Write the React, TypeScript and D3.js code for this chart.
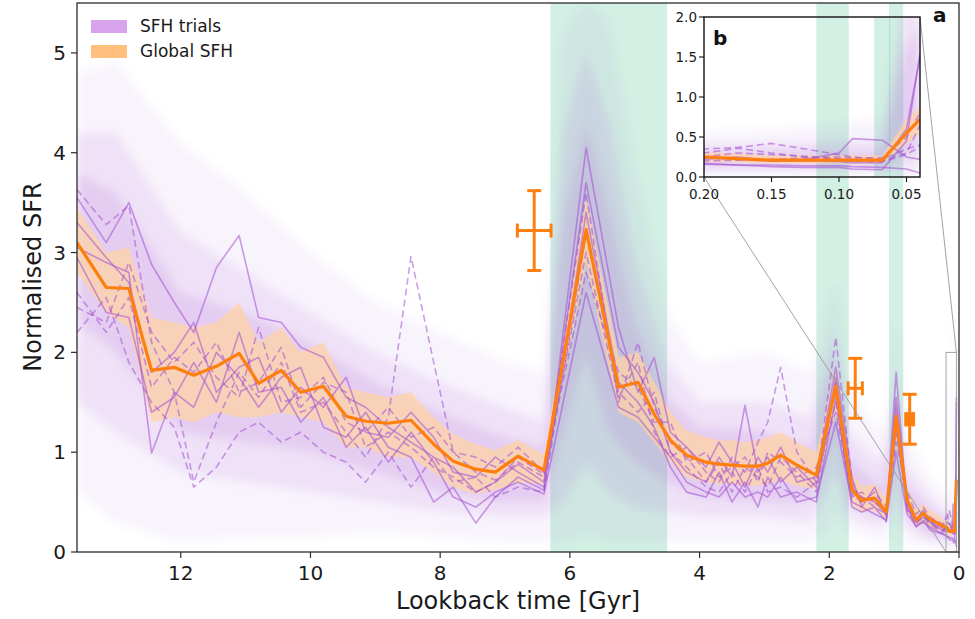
import React from "react";
import * as d3 from "d3";

// lookback time grid [Gyr]
const lookback = [
  13.6, 13.15, 12.8, 12.45, 12.1, 11.8, 11.45, 11.1, 10.8, 10.45,
  10.15, 9.8, 9.45, 9.15, 8.8, 8.45, 8.1, 7.8, 7.45, 7.15,
  6.8, 6.4, 5.75, 5.25, 4.95, 4.7, 4.45, 4.2, 3.9, 3.7,
  3.5, 3.3, 3.1, 2.95, 2.75, 2.5, 2.2, 1.9, 1.65, 1.5,
  1.3, 1.12, 0.97, 0.8, 0.66, 0.55, 0.45, 0.36, 0.25, 0.2,
  0.175, 0.15, 0.125, 0.1, 0.09, 0.068, 0.05, 0.04,
];

const globalMedian = [
  3.10, 2.65, 2.64, 1.82, 1.85, 1.77, 1.86, 1.99, 1.69, 1.82,
  1.60, 1.66, 1.36, 1.31, 1.29, 1.32, 1.08, 0.91, 0.83, 0.80,
  0.96, 0.82, 3.23, 1.65, 1.70, 1.38, 1.12, 0.97, 0.90, 0.88,
  0.87, 0.86, 0.86, 0.89, 0.97, 0.87, 0.77, 1.66, 0.62, 0.52,
  0.54, 0.40, 1.36, 0.52, 0.32, 0.39, 0.33, 0.30, 0.26, 0.25,
  0.23, 0.21, 0.21, 0.21, 0.21, 0.21, 0.55, 0.72,
];

const globalLow = [
  2.80, 2.40, 2.25, 1.30, 1.35, 1.30, 1.40, 1.35, 1.35, 1.40,
  1.35, 1.30, 1.05, 1.05, 0.95, 0.95, 0.80, 0.65, 0.58, 0.62,
  0.70, 0.68, 2.90, 1.40, 1.30, 1.10, 0.90, 0.75, 0.70, 0.68,
  0.68, 0.66, 0.66, 0.68, 0.72, 0.66, 0.63, 1.40, 0.48, 0.40,
  0.42, 0.32, 1.15, 0.40, 0.25, 0.30, 0.26, 0.23, 0.20, 0.19,
  0.18, 0.17, 0.17, 0.17, 0.17, 0.17, 0.42, 0.55,
];

const globalHigh = [
  3.45, 3.00, 3.05, 2.35, 2.30, 2.25, 2.30, 2.50, 2.10, 2.25,
  2.00, 2.10, 1.65, 1.60, 1.55, 1.60, 1.35, 1.18, 1.08, 1.02,
  1.12, 0.98, 3.55, 1.95, 2.00, 1.70, 1.40, 1.22, 1.15, 1.12,
  1.12, 1.10, 1.12, 1.15, 1.20, 1.10, 1.00, 1.85, 0.78, 0.66,
  0.68, 0.52, 1.55, 0.65, 0.42, 0.48, 0.42, 0.38, 0.33, 0.31,
  0.29, 0.27, 0.27, 0.27, 0.27, 0.27, 0.72, 0.88,
];

const trial1 = [
  3.55, 3.10, 3.50, 2.88, 2.50, 2.20, 2.85, 3.17, 2.35, 2.30,
  2.05, 1.95, 1.55, 1.45, 1.25, 1.10, 0.95, 0.85, 0.60, 0.70,
  0.88, 0.70, 3.70, 2.05, 1.80, 1.50, 1.00, 0.80, 0.70, 0.95,
  0.75, 1.47, 0.80, 0.95, 0.70, 0.85, 0.65, 1.75, 0.60, 0.55,
  0.50, 0.38, 1.55, 0.50, 0.33, 0.42, 0.30, 0.27, 0.24, 0.22,
  0.25, 0.20, 0.22, 0.30, 0.48, 0.46, 0.25, 0.22,
];
const trial2 = [
  3.63, 3.28, 3.47, 2.10, 1.60, 0.70, 1.30, 1.80, 1.55, 1.90,
  1.40, 1.50, 1.20, 0.95, 1.35, 2.96, 1.90, 1.00, 0.80, 0.72,
  0.90, 0.75, 3.00, 1.55, 1.90, 1.20, 0.95, 1.05, 0.80, 0.70,
  0.95, 0.80, 1.10, 1.30, 1.85, 1.00, 0.70, 2.15, 0.70, 0.50,
  0.60, 0.45, 1.20, 0.55, 0.30, 0.40, 0.28, 0.30, 0.25, 0.35,
  0.37, 0.42, 0.35, 0.28, 0.25, 0.22, 0.35, 0.40,
];
const trial3 = [
  3.05, 2.90, 2.80, 0.99, 1.60, 1.45, 2.00, 1.75, 1.45, 1.75,
  1.85, 1.25, 1.15, 1.40, 1.05, 0.95, 0.50, 0.65, 0.29, 0.55,
  0.75, 0.62, 3.40, 1.70, 1.50, 1.25, 0.85, 0.60, 0.55, 0.80,
  0.50, 0.70, 0.45, 0.75, 0.55, 0.60, 0.50, 1.55, 0.45, 0.40,
  0.45, 0.30, 1.80, 0.45, 0.25, 0.32, 0.22, 0.20, 0.18, 0.17,
  0.15, 0.13, 0.12, 0.12, 0.10, 0.09, 0.45, 1.55,
];
const trial4 = [
  2.45, 2.30, 2.90, 2.20, 1.90, 2.10, 1.75, 1.55, 2.25, 1.50,
  1.55, 1.75, 1.30, 1.20, 1.45, 1.15, 1.25, 1.00, 0.95, 0.85,
  1.05, 0.80, 2.80, 1.80, 1.65, 1.30, 1.30, 0.90, 1.00, 0.75,
  0.85, 0.95, 0.70, 1.00, 0.90, 0.75, 0.85, 1.40, 0.55, 0.60,
  0.50, 0.42, 1.10, 0.60, 0.38, 0.45, 0.35, 0.32, 0.28, 0.30,
  0.36, 0.30, 0.25, 0.25, 0.24, 0.24, 0.50, 0.80,
];
const trial5 = [
  3.30, 2.95, 2.70, 1.80, 2.00, 2.30, 1.60, 1.85, 1.95, 1.40,
  1.65, 1.45, 1.75, 1.20, 1.15, 1.40, 1.15, 0.80, 0.75, 0.95,
  0.80, 0.65, 4.05, 2.25, 1.60, 1.95, 1.20, 1.05, 0.85, 1.10,
  0.90, 0.65, 0.95, 0.80, 1.05, 0.70, 0.75, 1.85, 0.75, 0.45,
  0.65, 0.35, 1.45, 0.48, 0.30, 0.35, 0.32, 0.25, 0.22, 0.24,
  0.22, 0.20, 0.20, 0.19, 0.18, 0.18, 0.60, 1.50,
];
const trial6 = [
  2.60, 2.20, 2.55, 1.65, 1.95, 1.80, 2.10, 1.60, 1.70, 2.05,
  1.45, 1.70, 1.60, 1.05, 1.20, 1.05, 0.85, 0.75, 0.60, 0.70,
  0.95, 0.78, 3.60, 1.50, 2.10, 1.45, 1.10, 0.95, 0.70, 0.90,
  0.60, 0.85, 0.75, 0.65, 0.95, 0.80, 0.60, 1.70, 0.65, 0.55,
  0.45, 0.38, 1.30, 0.42, 0.28, 0.36, 0.30, 0.26, 0.22, 0.20,
  0.21, 0.22, 0.24, 0.23, 0.22, 0.20, 0.30, 0.65,
];
const trial7 = [
  2.95, 2.40, 2.35, 1.40, 1.55, 1.90, 1.50, 2.20, 1.60, 1.65,
  1.30, 1.55, 1.05, 1.25, 0.90, 1.20, 0.90, 0.55, 0.45, 0.60,
  0.70, 0.58, 2.60, 1.45, 1.35, 1.15, 0.95, 0.70, 0.60, 0.55,
  0.70, 0.55, 0.60, 0.55, 0.75, 0.50, 0.55, 1.30, 0.50, 0.45,
  0.38, 0.32, 1.00, 0.38, 0.26, 0.30, 0.25, 0.22, 0.18, 0.16,
  0.15, 0.15, 0.14, 0.14, 0.13, 0.12, 0.10, 0.05,
];
const trial8 = [
  2.20, 2.55, 1.90, 1.50, 1.25, 0.65, 0.85, 1.20, 1.30, 1.10,
  1.20, 1.00, 0.90, 0.70, 1.00, 0.65, 0.95, 0.70, 0.75, 0.55,
  0.65, 0.60, 3.20, 1.60, 1.40, 1.60, 1.00, 0.85, 0.65, 0.60,
  0.80, 0.60, 0.85, 0.60, 0.65, 0.55, 0.70, 1.50, 0.58, 0.50,
  0.55, 0.40, 1.25, 0.45, 0.32, 0.36, 0.28, 0.24, 0.20, 0.25,
  0.30, 0.28, 0.26, 0.22, 0.20, 0.19, 0.28, 0.38,
];
const trials = [trial1, trial2, trial3, trial4, trial5, trial6, trial7, trial8];
const trialDashed = [false, true, false, true, false, true, false, true];

// spread of all trials (background haze)
const hazeTime = [
  13.6, 13.0, 12.0, 11.0, 10.0, 9.0, 8.0, 7.0, 6.4, 6.1,
  5.75, 5.4, 5.0, 4.5, 4.0, 3.0, 2.3, 2.1, 1.9, 1.7,
  1.2, 1.05, 0.97, 0.85, 0.5, 0.2, 0.1, 0.068, 0.05, 0.04,
];
const hazeOuterLow = [
  0.6, 0.3, 0.1, 0.15, 0.15, 0.2, 0.15, 0.1, 0.1, 0.1,
  0.2, 0.1, 0.1, 0.1, 0.1, 0.1, 0.1, 0.2, 0.4, 0.2,
  0.1, 0.15, 0.4, 0.1, 0.05, 0.02, 0.02, 0.02, 0.0, 0.0,
];
const hazeOuterHigh = [
  4.8, 4.9, 4.1, 3.6, 3.0, 2.5, 2.2, 1.9, 1.8, 5.2,
  5.5, 5.3, 3.8, 2.4, 1.9, 2.0, 1.8, 2.2, 2.7, 1.6,
  1.2, 1.6, 2.3, 1.2, 0.8, 0.55, 0.65, 0.75, 2.6, 2.8,
];
const hazeMidLow = [
  1.5, 1.2, 0.8, 0.7, 0.6, 0.5, 0.4, 0.35, 0.35, 0.5,
  0.9, 0.6, 0.45, 0.4, 0.35, 0.35, 0.3, 0.5, 0.8, 0.35,
  0.25, 0.4, 0.8, 0.25, 0.12, 0.08, 0.08, 0.08, 0.1, 0.1,
];
const hazeMidHigh = [
  4.2, 4.2, 3.2, 2.8, 2.4, 2.0, 1.7, 1.45, 1.3, 4.2,
  5.0, 4.3, 2.9, 1.9, 1.5, 1.5, 1.35, 1.8, 2.2, 1.2,
  0.9, 1.3, 1.9, 0.9, 0.6, 0.4, 0.45, 0.45, 2.2, 2.4,
];
const hazeInnerLow = [
  2.3, 2.0, 1.2, 1.1, 1.0, 0.8, 0.6, 0.5, 0.5, 1.2,
  2.0, 1.2, 0.9, 0.7, 0.55, 0.5, 0.5, 0.8, 1.2, 0.5,
  0.35, 0.6, 1.1, 0.4, 0.2, 0.14, 0.14, 0.14, 0.3, 0.3,
];
const hazeInnerHigh = [
  3.8, 3.6, 2.6, 2.4, 2.1, 1.7, 1.4, 1.15, 1.05, 3.3,
  4.3, 3.4, 2.3, 1.55, 1.25, 1.2, 1.05, 1.5, 1.9, 0.95,
  0.65, 1.1, 1.6, 0.7, 0.45, 0.32, 0.32, 0.32, 1.6, 1.9,
];

const burstWindows = [[6.3, 4.5], [2.2, 1.7], [1.08, 0.86]];
const insetBurstWindows = [[0.074, 0.062]];

// independent estimates with error bars
const obsTime = [6.55, 1.6, 0.76];
const obsTimeErr = [0.26, 0.11, 0.06];
const obsSfr = [3.22, 1.64, 1.33];
const obsSfrErr = [0.4, 0.3, 0.25];
const obsSquare = [false, false, true];

const yTicks = [0, 1, 2, 3, 4, 5];
const xTicks = [12, 10, 8, 6, 4, 2, 0];
const insetXTicks = [0.2, 0.15, 0.1, 0.05];
const insetYTicks = [0, 0.5, 1, 1.5, 2];
const legendLabels = ["SFH trials", "Global SFH"];
const legendColors = ["#d6a3ec", "#ffc07e"];

const W = 975, H = 619;
const FONT = "DejaVu Sans, sans-serif";
const PURPLE = "#a24fd2";
const ORANGE = "#ff7f0e";
const GREEN = "#5fc99a";
const AX = "#2b2b2b";

type Scale = d3.ScaleLinear<number, number>;

function DataLayers({ x, y, rows, hazeRows }: { x: Scale; y: Scale; rows: number[]; hazeRows: number[] }) {
  const hazeArea = (lo: number[], hi: number[]) =>
    d3.area<number>().x(i => x(hazeTime[i])).y0(i => y(lo[i])).y1(i => y(hi[i]))(hazeRows) || "";
  const band = d3.area<number>().x(i => x(lookback[i])).y0(i => y(globalLow[i])).y1(i => y(globalHigh[i]))(rows) || "";
  const lineOf = (s: number[]) => d3.line<number>().x(i => x(lookback[i])).y(i => y(s[i]))(rows) || "";
  const hazes = [[hazeOuterLow, hazeOuterHigh], [hazeMidLow, hazeMidHigh], [hazeInnerLow, hazeInnerHigh]];
  const hazeOpacity = [0.07, 0.1, 0.15];
  return (
    <g>
      <g filter="url(#hazeBlur)">
        {hazes.map(([lo, hi], k) => (
          <path key={k} d={hazeArea(lo, hi)} fill={PURPLE} fillOpacity={hazeOpacity[k]} />
        ))}
      </g>
      <path d={band} fill="#ffd2a4" fillOpacity={0.72} />
      {trials.map((s, k) => (
        <path key={k} d={lineOf(s)} fill="none" stroke={PURPLE} strokeOpacity={0.55} strokeWidth={1.6}
          strokeDasharray={trialDashed[k] ? "7,4" : undefined} strokeLinejoin="round" />
      ))}
      <path d={lineOf(globalMedian)} fill="none" stroke={ORANGE} strokeWidth={3.2} strokeLinejoin="round" />
    </g>
  );
}

export default function App() {
  const x = d3.scaleLinear().domain([13.6, 0]).range([77, 959]);
  const y = d3.scaleLinear().domain([0, 5.5]).range([552, 3]);
  const xi = d3.scaleLinear().domain([0.2, 0.04]).range([704, 920]);
  const yi = d3.scaleLinear().domain([0, 2]).range([177, 17]);

  const allRows = lookback.map((_, i) => i);
  const allHaze = hazeTime.map((_, i) => i);
  const insetRows = allRows.filter(i => lookback[i] <= 0.26);
  const insetHaze = allHaze.filter(i => hazeTime[i] <= 0.6);

  const cap = 7;

  return (
    <svg width={W} height={H} style={{ position: "absolute", left: 0, top: 0, fontFamily: FONT }}>
      <defs>
        <clipPath id="clipMain"><rect x={77} y={3} width={882} height={549} /></clipPath>
        <clipPath id="clipInset"><rect x={704} y={17} width={216} height={160} /></clipPath>
        <filter id="hazeBlur" x="-10%" y="-10%" width="120%" height="120%">
          <feGaussianBlur stdDeviation={4} />
        </filter>
      </defs>
      <rect width={W} height={H} fill="white" />

      {/* main panel */}
      <g clipPath="url(#clipMain)">
        {burstWindows.map(([a, b], k) => (
          <rect key={k} x={x(a)} y={3} width={x(b) - x(a)} height={549} fill={GREEN} fillOpacity={0.28} />
        ))}
        <DataLayers x={x} y={y} rows={allRows} hazeRows={allHaze} />
      </g>

      {obsTime.map((t, k) => {
        const cx = x(t), cy = y(obsSfr[k]);
        const x0 = x(t + obsTimeErr[k]), x1 = x(t - obsTimeErr[k]);
        const y0 = y(obsSfr[k] + obsSfrErr[k]), y1 = y(obsSfr[k] - obsSfrErr[k]);
        return (
          <g key={k} stroke={ORANGE} strokeWidth={3}>
            <line x1={cx} x2={cx} y1={y0} y2={y1} />
            <line x1={cx - cap} x2={cx + cap} y1={y0} y2={y0} />
            <line x1={cx - cap} x2={cx + cap} y1={y1} y2={y1} />
            <line x1={x0} x2={x1} y1={cy} y2={cy} />
            <line x1={x0} x2={x0} y1={cy - cap} y2={cy + cap} />
            <line x1={x1} x2={x1} y1={cy - cap} y2={cy + cap} />
            {obsSquare[k] && <rect x={cx - 5} y={cy - 7} width={10} height={14} fill={ORANGE} stroke="none" />}
          </g>
        );
      })}

      {/* zoom indicator */}
      <rect x={x(0.2)} y={y(2)} width={x(0.04) - x(0.2)} height={y(0) - y(2)} fill="none" stroke="#999" strokeWidth={0.9} />
      <line x1={xi(0.2)} y1={yi(0)} x2={x(0.2)} y2={y(0)} stroke="#999" strokeWidth={0.9} />
      <line x1={xi(0.04)} y1={yi(2)} x2={x(0.04)} y2={y(2)} stroke="#999" strokeWidth={0.9} />

      {/* main axes */}
      <rect x={77} y={3} width={882} height={549} fill="none" stroke={AX} strokeWidth={1.3} />
      {yTicks.map(v => (
        <g key={v}>
          <line x1={71} x2={77} y1={y(v)} y2={y(v)} stroke={AX} strokeWidth={1.2} />
          <text x={66} y={y(v) + 7} textAnchor="end" fontSize={20} fill="#1a1a1a">{v}</text>
        </g>
      ))}
      {xTicks.map(v => (
        <g key={v}>
          <line x1={x(v)} x2={x(v)} y1={552} y2={558} stroke={AX} strokeWidth={1.2} />
          <text x={x(v)} y={580} textAnchor="middle" fontSize={20} fill="#1a1a1a">{v}</text>
        </g>
      ))}
      <text x={518} y={609} textAnchor="middle" fontSize={24} fill="#1a1a1a">Lookback time [Gyr]</text>
      <text transform="translate(41,277) rotate(-90)" textAnchor="middle" fontSize={24} fill="#1a1a1a">Normalised SFR</text>

      {/* legend */}
      {legendLabels.map((l, k) => (
        <g key={l}>
          <rect x={91} y={20 + k * 25} width={36} height={13} fill={legendColors[k]} />
          <text x={140} y={32 + k * 25} fontSize={17} fill="#1a1a1a">{l}</text>
        </g>
      ))}
      <text x={933} y={22} fontSize={20} fontWeight="bold" fill="#111">a</text>

      {/* inset */}
      <g clipPath="url(#clipInset)">
        {insetBurstWindows.map(([a, b], k) => (
          <rect key={k} x={xi(a)} y={17} width={xi(b) - xi(a)} height={160} fill={GREEN} fillOpacity={0.28} />
        ))}
        <DataLayers x={xi} y={yi} rows={insetRows} hazeRows={insetHaze} />
      </g>
      <rect x={704} y={17} width={216} height={160} fill="none" stroke="#111" strokeWidth={1.4} />
      {insetYTicks.map(v => (
        <g key={v}>
          <line x1={699} x2={704} y1={yi(v)} y2={yi(v)} stroke="#111" strokeWidth={1.1} />
          <text x={697} y={yi(v) + 4.7} textAnchor="end" fontSize={13.5} fill="#1a1a1a">{v.toFixed(1)}</text>
        </g>
      ))}
      {insetXTicks.map(v => (
        <g key={v}>
          <line x1={xi(v)} x2={xi(v)} y1={177} y2={182} stroke="#111" strokeWidth={1.1} />
          <text x={xi(v)} y={199} textAnchor="middle" fontSize={13.5} fill="#1a1a1a">{v.toFixed(2)}</text>
        </g>
      ))}
      <text x={713} y={45} fontSize={20} fontWeight="bold" fill="#111">b</text>
    </svg>
  );
}
